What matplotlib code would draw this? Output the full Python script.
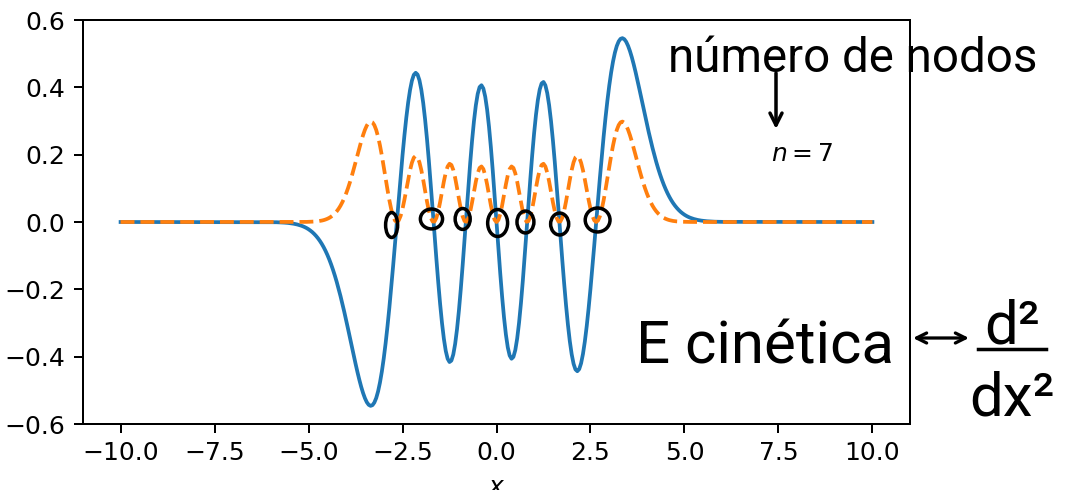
import numpy as np
import matplotlib
matplotlib.use("Agg")
import matplotlib.pyplot as plt
from matplotlib.patches import Ellipse, FancyArrowPatch
from matplotlib.lines import Line2D

n_level = 7
x_edges = [-10.0, 10.0]
x_grid = list(np.round(np.arange(-120, 121) * 0.05, 2))

psi_vals = [
    # -6.00 .. -0.05
    -0.0004, -0.0005, -0.0006, -0.0007, -0.0009, -0.0012, -0.0014, -0.0018, -0.0022, -0.0027,
    -0.0034, -0.0041, -0.0050, -0.0061, -0.0074, -0.0089, -0.0107, -0.0128, -0.0153, -0.0182,
    -0.0216, -0.0256, -0.0301, -0.0354, -0.0414, -0.0482, -0.0559, -0.0646, -0.0744, -0.0853,
    -0.0975, -0.1109, -0.1257, -0.1418, -0.1593, -0.1782, -0.1985, -0.2200, -0.2428, -0.2667,
    -0.2915, -0.3171, -0.3431, -0.3693, -0.3953, -0.4207, -0.4452, -0.4682, -0.4893, -0.5078,
    -0.5233, -0.5353, -0.5430, -0.5461, -0.5441, -0.5364, -0.5229, -0.5031, -0.4769, -0.4443,
    -0.4054, -0.3604, -0.3098, -0.2541, -0.1940, -0.1305, -0.0645, 0.0026, 0.0698, 0.1354,
    0.1983, 0.2567, 0.3094, 0.3550, 0.3921, 0.4198, 0.4371, 0.4432, 0.4379, 0.4211,
    0.3928, 0.3539, 0.3050, 0.2475, 0.1828, 0.1128, 0.0394, -0.0351, -0.1086, -0.1787,
    -0.2432, -0.2999, -0.3470, -0.3829, -0.4061, -0.4159, -0.4117, -0.3936, -0.3621, -0.3182,
    -0.2632, -0.1990, -0.1279, -0.0522, 0.0253, 0.1019, 0.1748, 0.2415, 0.2993, 0.3462,
    0.3805, 0.4007, 0.4062, 0.3966, 0.3724, 0.3343, 0.2837, 0.2226, 0.1532, 0.0781,
    # 0.00
    0.0000,
    # 0.05 .. 6.00
    -0.0781, -0.1532, -0.2226, -0.2837, -0.3343, -0.3724, -0.3966, -0.4062, -0.4007, -0.3805,
    -0.3462, -0.2993, -0.2415, -0.1748, -0.1019, -0.0253, 0.0522, 0.1279, 0.1990, 0.2632,
    0.3182, 0.3621, 0.3936, 0.4117, 0.4159, 0.4061, 0.3829, 0.3470, 0.2999, 0.2432,
    0.1787, 0.1086, 0.0351, -0.0394, -0.1128, -0.1828, -0.2475, -0.3050, -0.3539, -0.3928,
    -0.4211, -0.4379, -0.4432, -0.4371, -0.4198, -0.3921, -0.3550, -0.3094, -0.2567, -0.1983,
    -0.1354, -0.0698, -0.0026, 0.0645, 0.1305, 0.1940, 0.2541, 0.3098, 0.3604, 0.4054,
    0.4443, 0.4769, 0.5031, 0.5229, 0.5364, 0.5441, 0.5461, 0.5430, 0.5353, 0.5233,
    0.5078, 0.4893, 0.4682, 0.4452, 0.4207, 0.3953, 0.3693, 0.3431, 0.3171, 0.2915,
    0.2667, 0.2428, 0.2200, 0.1985, 0.1782, 0.1593, 0.1418, 0.1257, 0.1109, 0.0975,
    0.0853, 0.0744, 0.0646, 0.0559, 0.0482, 0.0414, 0.0354, 0.0301, 0.0256, 0.0216,
    0.0182, 0.0153, 0.0128, 0.0107, 0.0089, 0.0074, 0.0061, 0.0050, 0.0041, 0.0034,
    0.0027, 0.0022, 0.0018, 0.0014, 0.0012, 0.0009, 0.0007, 0.0006, 0.0005, 0.0004,
]

prob_vals = [
    # -6.00 .. -0.05
    0.0000, 0.0000, 0.0000, 0.0000, 0.0000, 0.0000, 0.0000, 0.0000, 0.0000, 0.0000,
    0.0000, 0.0000, 0.0000, 0.0000, 0.0001, 0.0001, 0.0001, 0.0002, 0.0002, 0.0003,
    0.0005, 0.0007, 0.0009, 0.0013, 0.0017, 0.0023, 0.0031, 0.0042, 0.0055, 0.0073,
    0.0095, 0.0123, 0.0158, 0.0201, 0.0254, 0.0318, 0.0394, 0.0484, 0.0590, 0.0711,
    0.0850, 0.1005, 0.1177, 0.1363, 0.1562, 0.1770, 0.1982, 0.2192, 0.2394, 0.2579,
    0.2739, 0.2865, 0.2949, 0.2983, 0.2960, 0.2878, 0.2734, 0.2531, 0.2274, 0.1974,
    0.1644, 0.1299, 0.0960, 0.0646, 0.0376, 0.0170, 0.0042, 0.0000, 0.0049, 0.0183,
    0.0393, 0.0659, 0.0957, 0.1260, 0.1538, 0.1762, 0.1910, 0.1964, 0.1918, 0.1773,
    0.1543, 0.1252, 0.0930, 0.0612, 0.0334, 0.0127, 0.0016, 0.0012, 0.0118, 0.0319,
    0.0591, 0.0900, 0.1204, 0.1466, 0.1649, 0.1729, 0.1695, 0.1549, 0.1311, 0.1012,
    0.0693, 0.0396, 0.0164, 0.0027, 0.0006, 0.0104, 0.0306, 0.0583, 0.0896, 0.1199,
    0.1447, 0.1606, 0.1650, 0.1573, 0.1387, 0.1117, 0.0805, 0.0496, 0.0235, 0.0061,
    # 0.00
    0.0000,
    # 0.05 .. 6.00
    0.0061, 0.0235, 0.0496, 0.0805, 0.1117, 0.1387, 0.1573, 0.1650, 0.1606, 0.1447,
    0.1199, 0.0896, 0.0583, 0.0306, 0.0104, 0.0006, 0.0027, 0.0164, 0.0396, 0.0693,
    0.1012, 0.1311, 0.1549, 0.1695, 0.1729, 0.1649, 0.1466, 0.1204, 0.0900, 0.0591,
    0.0319, 0.0118, 0.0012, 0.0016, 0.0127, 0.0334, 0.0612, 0.0930, 0.1252, 0.1543,
    0.1773, 0.1918, 0.1964, 0.1910, 0.1762, 0.1538, 0.1260, 0.0957, 0.0659, 0.0393,
    0.0183, 0.0049, 0.0000, 0.0042, 0.0170, 0.0376, 0.0646, 0.0960, 0.1299, 0.1644,
    0.1974, 0.2274, 0.2531, 0.2734, 0.2878, 0.2960, 0.2983, 0.2949, 0.2865, 0.2739,
    0.2579, 0.2394, 0.2192, 0.1982, 0.1770, 0.1562, 0.1363, 0.1177, 0.1005, 0.0850,
    0.0711, 0.0590, 0.0484, 0.0394, 0.0318, 0.0254, 0.0201, 0.0158, 0.0123, 0.0095,
    0.0073, 0.0055, 0.0042, 0.0031, 0.0023, 0.0017, 0.0013, 0.0009, 0.0007, 0.0005,
    0.0003, 0.0002, 0.0002, 0.0001, 0.0001, 0.0001, 0.0000, 0.0000, 0.0000, 0.0000,
    0.0000, 0.0000, 0.0000, 0.0000, 0.0000, 0.0000, 0.0000, 0.0000, 0.0000, 0.0000,
]

x_all = [x_edges[0]] + x_grid + [x_edges[1]]
psi_all = [0.0] + psi_vals + [0.0]
prob_all = [0.0] + prob_vals + [0.0]

# ---- figure ----
DPI = 180
fig = plt.figure(figsize=(1081 / DPI, 490 / DPI), dpi=DPI)
W, H = 1081.0, 490.0


def fx(px):
    return px / W


def fy(py):
    return 1 - py / H


ax = fig.add_axes([fx(83), fy(424), (910 - 83) / W, (424 - 20) / H])
n = min(len(x_all), len(psi_all), len(prob_all))
ax.plot(x_all[:n], psi_all[:n], color="#1f77b4", lw=1.5)
ax.plot(x_all[:n], prob_all[:n], color="#ff7f0e", lw=1.5, ls="--")
ax.set_ylim(-0.6, 0.6)
ax.set_xlabel("$x$")
ax.text(7.3, 0.18, f"$n = {n_level}$", fontsize=10)

# hand-drawn circles around the nodes
node_marks = [(-2.79, -0.009, 0.32, 0.074), (-1.73, 0.009, 0.59, 0.059),
              (-0.90, 0.009, 0.40, 0.062), (0.03, -0.003, 0.53, 0.080),
              (0.77, 0.0, 0.45, 0.065), (1.68, -0.006, 0.48, 0.065),
              (2.69, 0.006, 0.66, 0.071)]
for cx, cy, w, h in node_marks:
    ax.add_patch(Ellipse((cx, cy), w, h, fill=False, edgecolor="black",
                         lw=1.4, zorder=5))

hand = dict(family=["Roboto", "DejaVu Sans"], fontweight="normal", color="black")

fig.text(fx(853), fy(72), "número de nodos", ha="center", va="baseline",
         fontsize=19, **hand)
fig.patches.append(FancyArrowPatch((fx(776), fy(68)), (fx(776), fy(134)),
                                   transform=fig.transFigure, arrowstyle="->",
                                   mutation_scale=12, lw=1.4, color="black"))

fig.text(fx(765), fy(363), "E cinética", ha="center", va="baseline",
         fontsize=24, **hand)
fig.patches.append(FancyArrowPatch((fx(908), fy(338)), (fx(974), fy(338)),
                                   transform=fig.transFigure, arrowstyle="<->",
                                   mutation_scale=10, lw=1.3, color="black"))
fig.text(fx(1012), fy(343), "d²", ha="center", va="baseline", fontsize=24, **hand)
fig.lines.append(Line2D([fx(978), fx(1046)], [fy(349), fy(349)],
                        transform=fig.transFigure, color="black", lw=1.4))
fig.text(fx(1012), fy(415), "dx²", ha="center", va="baseline", fontsize=24, **hand)

fig.savefig("out.png", dpi=DPI)
